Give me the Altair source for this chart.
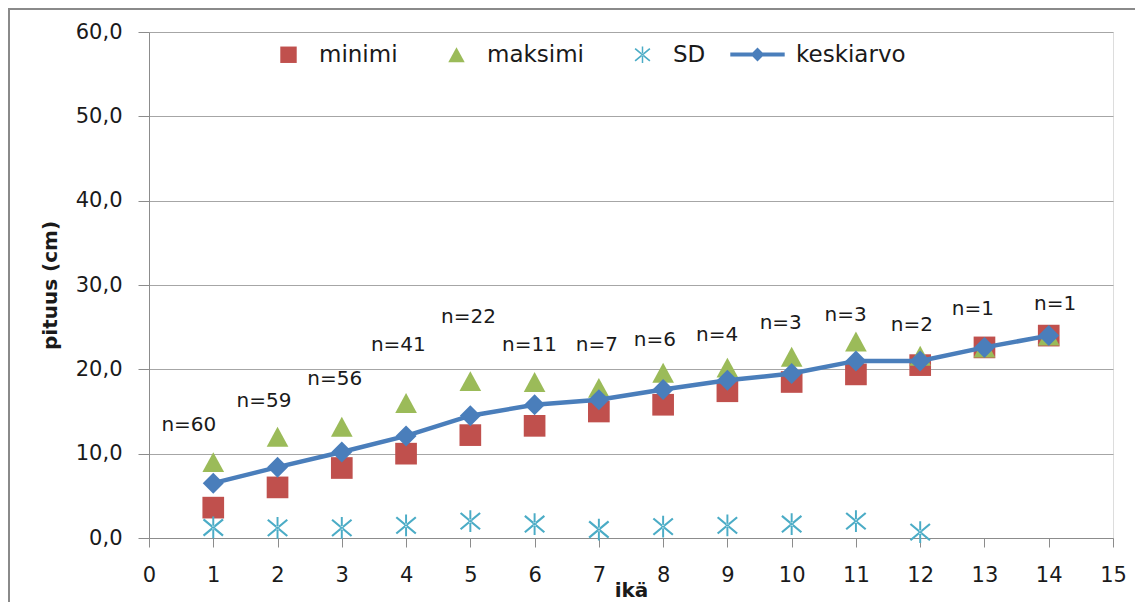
import altair as alt
import pandas as pd

# ---- data ----
ika = list(range(1, 15))
minimi = [3.6, 6.0, 8.3, 10.0, 12.2, 13.3, 15.0, 15.8, 17.4, 18.5, 19.4, 20.5, 22.6, 24.0]
maksimi = [9.0, 12.0, 13.2, 16.0, 18.6, 18.5, 17.8, 19.6, 20.2, 21.5, 23.3, 21.6, 22.6, 24.0]
sd_ika = list(range(1, 13))
sd = [1.25, 1.2, 1.2, 1.5, 2.0, 1.65, 1.0, 1.35, 1.5, 1.65, 2.0, 0.7]
keskiarvo = [6.5, 8.4, 10.2, 12.1, 14.5, 15.8, 16.4, 17.6, 18.7, 19.5, 21.0, 21.0, 22.6, 24.0]
n_teksti = ["n=60", "n=59", "n=56", "n=41", "n=22", "n=11", "n=7", "n=6", "n=4",
            "n=3", "n=3", "n=2", "n=1", "n=1"]
n_x = [0.62, 1.79, 2.89, 3.88, 4.97, 5.92, 6.97, 7.87, 8.84, 9.83, 10.84, 11.87, 12.82, 14.1]
n_y = [13.4, 16.2, 18.9, 22.9, 26.2, 22.9, 22.9, 23.5, 24.1, 25.5, 26.5, 25.3, 27.1, 27.7]
y_ticks = [0, 10, 20, 30, 40, 50, 60]
x_ticks = list(range(0, 16))

FONT = "DejaVu Sans"
C_MIN, C_MAX, C_SD, C_MEAN = "#C0504D", "#9BBB59", "#4BACC6", "#4A7EBB"

TRIANGLE = "M0,-0.92 L1,0.92 L-1,0.92 Z"
ASTERISK = ("M-0.09,-1 L0.09,-1 L0.09,1 L-0.09,1 Z "
            "M-0.964,-0.673 L0.836,0.827 L0.964,0.673 L-0.836,-0.827 Z "
            "M-0.836,0.827 L0.964,-0.673 L0.836,-0.827 L-0.964,0.673 Z")
LINE_DIAMOND = ("M-3.4,-0.24 L-0.62,-0.24 L0,-0.86 L0.62,-0.24 L3.4,-0.24 L3.4,0.24 "
                "L0.62,0.24 L0,0.86 L-0.62,0.24 L-3.4,0.24 Z")

rows = []
for s, xs, vs in [("minimi", ika, minimi), ("maksimi", ika, maksimi), ("SD", sd_ika, sd)]:
    for x, v in zip(xs, vs):
        rows.append({"ika": x, "arvo": v, "sarja": s})
df_pts = pd.DataFrame(rows)
df_mean = pd.DataFrame({"ika": ika, "arvo": keskiarvo, "sarja": ["keskiarvo"] * len(ika)})
df_lab = pd.DataFrame({"ika": n_x, "arvo": n_y, "teksti": n_teksti})

x_enc = alt.X("ika:Q", scale=alt.Scale(domain=[0, 15], nice=False, zero=False),
              axis=alt.Axis(values=x_ticks, format="d", title="ikä", grid=False, tickSize=9,
                            labelPadding=17, labelFontSize=21, labelFont=FONT,
                            labelColor="#1a1a1a", domainColor="#8c8c8c", tickColor="#8c8c8c",
                            titleFont=FONT, titleFontSize=20, titleFontWeight="bold",
                            titleColor="#1a1a1a", titleY=58, titleBaseline="alphabetic",
                            labelFlush=False))
y_enc = alt.Y("arvo:Q", scale=alt.Scale(domain=[0, 60], nice=False),
              axis=alt.Axis(values=y_ticks, title="pituus (cm)", grid=True, gridColor="#a6a6a6",
                            tickSize=11, labelPadding=16, labelFontSize=21, labelFont=FONT,
                            labelColor="#1a1a1a", domainColor="#8c8c8c", tickColor="#8c8c8c",
                            labelExpr="replace(format(datum.value, '.1f'), '.', ',')",
                            titleFont=FONT, titleFontSize=20, titleFontWeight="bold",
                            titleColor="#1a1a1a", titleX=-99, titleY=253, titleAngle=-90,
                            titleBaseline="middle", titleAlign="center", labelFlush=False))

frame = alt.Chart(pd.DataFrame({"k": [0]})).mark_rect(
    fill="transparent", stroke="#8a8a8a", strokeWidth=2, clip=False
).encode(x=alt.value(-140), x2=alt.value(995), y=alt.value(-23), y2=alt.value(620))

leg1 = dict(title=None, orient="none", legendX=128, legendY=11,
            direction="horizontal", symbolSize=270, labelFont=FONT,
            labelFontSize=23, labelColor="#1a1a1a", labelOffset=19,
            columnPadding=47, padding=0, symbolStrokeWidth=0)

pts = alt.Chart(df_pts).mark_point(filled=True, size=470, opacity=1, strokeWidth=0).encode(
    x=x_enc, y=y_enc,
    fill=alt.Fill("sarja:N", scale=alt.Scale(domain=["minimi", "maksimi", "SD"],
                                             range=[C_MIN, C_MAX, C_SD]),
                  legend=alt.Legend(**leg1)),
    shape=alt.Shape("sarja:N", scale=alt.Scale(domain=["minimi", "maksimi", "SD"],
                                               range=["square", TRIANGLE, ASTERISK]),
                    legend=alt.Legend(**leg1)),
)

line = alt.Chart(df_mean).mark_line(strokeWidth=4.5).encode(
    x=x_enc, y=y_enc,
    stroke=alt.Stroke("sarja:N", scale=alt.Scale(domain=["keskiarvo"], range=[C_MEAN]),
                      legend=alt.Legend(title=None, orient="none", legendX=597, legendY=11,
                                        symbolType=LINE_DIAMOND, symbolSize=256,
                                        symbolFillColor=C_MEAN, symbolStrokeColor=C_MEAN,
                                        symbolStrokeWidth=0, labelFont=FONT, labelFontSize=23,
                                        labelColor="#1a1a1a", labelOffset=27, padding=0)),
)
dia = alt.Chart(df_mean).mark_point(shape="diamond", filled=True, size=440, opacity=1,
                                    color=C_MEAN).encode(x=x_enc, y=y_enc)

labels = alt.Chart(df_lab).mark_text(font=FONT, fontSize=20, color="#1a1a1a",
                                     align="center", baseline="middle").encode(
    x=x_enc, y=y_enc, text="teksti:N",
)

chart = alt.layer(frame, pts, line, dia, labels).resolve_legend(
    stroke="independent"
).properties(
    width=964, height=506,
    autosize=alt.AutoSizeParams(type="none"),
    padding={"left": 141, "top": 24, "right": 22, "bottom": 64},
).configure_view(stroke=None).configure(background="white")

chart.save("out.html", embed_options={"renderer": "svg", "actions": False})
